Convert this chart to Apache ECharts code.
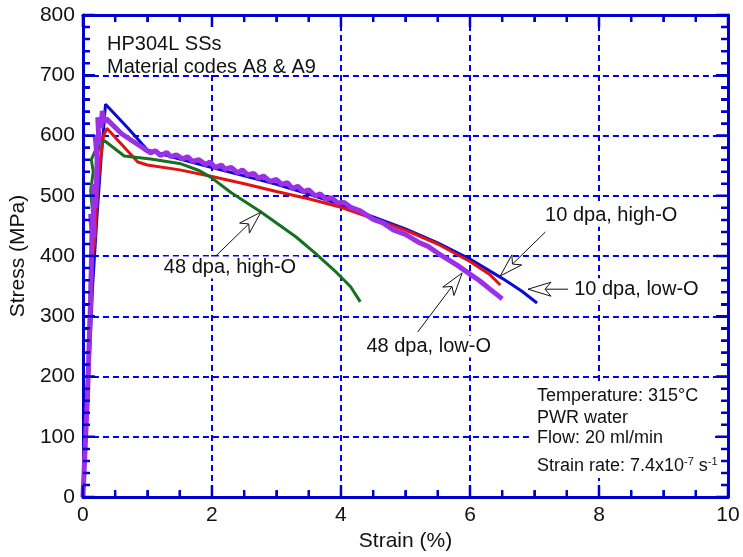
<!DOCTYPE html>
<html>
<head>
<meta charset="utf-8">
<script src="https://cdn.jsdelivr.net/npm/echarts@6/dist/echarts.min.js"></script>
<style>
html,body{margin:0;padding:0;background:#fff;}
#chart{width:743px;height:557px;}
</style>
</head>
<body>
<div id="chart"></div>
<script>
// ---- data (strain %, stress MPa) ----
const seriesNames = ['10 dpa, low-O', '10 dpa, high-O', '48 dpa, high-O', '48 dpa, low-O'];
const blueData = [[0,0],[0.08,180],[0.15,350],[0.22,470],[0.28,560],[0.35,652],[0.7,612],[1.0,576],[1.5,561],[2.0,547],[2.5,533],[3.0,519],[3.5,503],[4.0,485],[4.5,465],[5.0,445],[5.5,422],[6.0,395],[6.5,363],[6.8,342],[7.04,322]];
const redData = [[0,0],[0.07,187],[0.15,400],[0.18,420],[0.22,500],[0.27,560],[0.32,600],[0.37,612],[0.85,556],[1.0,551],[1.5,543],[2.0,532],[2.5,520],[3.0,507],[3.5,495],[4.0,481],[4.5,462],[5.0,443],[5.5,420],[6.0,391],[6.3,370],[6.47,352]];
const greenData = [[0,0],[0.07,170],[0.12,380],[0.15,470],[0.12,509],[0.16,540],[0.13,560],[0.2,577],[0.22,560],[0.25,585],[0.34,591],[0.64,566],[1.05,561],[1.52,553],[1.8,542],[1.98,531],[2.3,505],[2.76,473],[3.0,455],[3.3,432],[3.6,405],[3.9,376],[4.15,349],[4.3,324]];
const purpleData = [[0,0],[0.07,167],[0.12,330],[0.14,440],[0.12,470],[0.17,430],[0.16,520],[0.2,480],[0.22,560],[0.19,600],[0.25,585],[0.23,630],[0.28,612],[0.3,641],[0.33,622],[0.36,628],[0.6,603],[0.95,578],[1.05,571],[1.12,575],[1.2,567],[1.3,572],[1.36,565],[1.45,568],[1.55,561],[1.62,565],[1.7,557],[1.8,560],[1.9,552],[1.97,556],[2.05,547],[2.15,551],[2.2,544],[2.3,547],[2.4,538],[2.47,543],[2.55,535],[2.65,537],[2.72,529],[2.8,533],[2.9,524],[3.0,527],[3.08,519],[3.17,522],[3.25,512],[3.33,516],[3.42,507],[3.5,510],[3.6,500],[3.68,503],[3.77,494],[3.85,497],[3.95,488],[4.05,489],[4.15,481],[4.3,475],[4.5,461],[4.65,455],[4.8,444],[5.0,436],[5.2,423],[5.35,416],[5.5,405],[5.65,395],[5.8,385],[6.0,370],[6.15,359],[6.3,346],[6.5,329]];
const xTicks = {min:0, max:10, step:2, minorStep:0.5};
const yTicks = {min:0, max:800, step:100, minorStep:20};
// annotations: [tailX, tailY, tipX, tipY, textX, textY]
const annoLabels = ['48 dpa, high-O', '10 dpa, high-O', '10 dpa, low-O', '48 dpa, low-O'];
const annoData = [
  [2.03, 397, 2.76, 473, 2.28, 381],
  [7.17, 440, 6.47, 367, 8.19, 467],
  [7.52, 345, 6.90, 345, 8.58, 345],
  [5.19, 274, 5.88, 372, 5.36, 250]
];

const FONT = '"Liberation Sans", Arial, sans-serif';
const AX = '#0000cc';
const GRIDC = '#0000ee';
const MAJ = 12, MIN = 7;            // tick lengths in px
const GRID = {left:82, right:15, top:15, bottom:56, W:743, H:557};

function tickList(t) {
  const out = [];
  const n = Math.round((t.max - t.min) / t.minorStep);
  const per = Math.round(t.step / t.minorStep);
  for (let i = 0; i <= n; i++) out.push([t.min + i * t.minorStep, i % per === 0]);
  return out;
}
const xPerPx = (xTicks.max - xTicks.min) / (GRID.W - GRID.left - GRID.right);
const yPerPx = (yTicks.max - yTicks.min) / (GRID.H - GRID.top - GRID.bottom);

function tickSegments(side) {
  const out = [];
  if (side === 'bottom' || side === 'top') {
    tickList(xTicks).forEach(([v, major]) => {
      const l = (major ? MAJ : MIN) * yPerPx;
      const y0 = side === 'bottom' ? yTicks.min : yTicks.max;
      const y1 = side === 'bottom' ? y0 + l : y0 - l;
      out.push([v, y0], [v, y1], '-');
    });
  } else {
    tickList(yTicks).forEach(([v, major]) => {
      const l = (major ? MAJ : MIN) * xPerPx;
      const x0 = side === 'left' ? xTicks.min : xTicks.max;
      const x1 = side === 'left' ? x0 + l : x0 - l;
      out.push([x0, v], [x1, v], '-');
    });
  }
  return out;
}

const chart = echarts.init(document.getElementById('chart'), null, {renderer:'canvas'});

function mainAxis(base, showLabel, showSplit, minorSplit) {
  return Object.assign(base, {
    axisLine: {show:true, onZero:false, lineStyle:{color:AX, width:3}},
    axisTick: {show:true, inside:true, length:MAJ, lineStyle:{color:AX, width:2}},
    minorTick: {show:true, splitNumber:minorSplit, length:MIN, lineStyle:{color:AX, width:2}},
    splitLine: {show:showSplit, lineStyle:{color:GRIDC, width:2, type:[6,4]}},
    axisLabel: {show:showLabel, color:'#111', fontSize:21, fontFamily:FONT, margin:8}
  });
}

function renderArrow(params, api) {
  const tail = api.coord([api.value(0), api.value(1)]);
  const tip = api.coord([api.value(2), api.value(3)]);
  const txt = api.coord([api.value(4), api.value(5)]);
  const dx = tip[0]-tail[0], dy = tip[1]-tail[1];
  const L = Math.hypot(dx, dy);
  const ux = dx/L, uy = dy/L, nx = -uy, ny = ux;
  const head = 23, notch = 17, half = 7;
  const b = [tip[0]-ux*head, tip[1]-uy*head];
  const p1 = [b[0]+nx*half, b[1]+ny*half];
  const p2 = [b[0]-nx*half, b[1]-ny*half];
  const pn = [tip[0]-ux*notch, tip[1]-uy*notch];
  return {
    type:'group',
    children:[
      {type:'text', z2:5, style:{text:annoLabels[params.dataIndex], x:txt[0], y:txt[1], align:'center', verticalAlign:'middle',
        font:'20px ' + FONT, fill:'#111', backgroundColor:'#fff', padding:[1,2]}},
      {type:'line', shape:{x1:tail[0], y1:tail[1], x2:pn[0], y2:pn[1]}, style:{stroke:'#111', lineWidth:1}},
      {type:'polygon', shape:{points:[tip, p1, pn, p2]}, style:{fill:'#fff', stroke:'#111', lineWidth:1}}
    ]
  };
}

function tickLineSeries(side) {
  return {type:'line', data:tickSegments(side), symbol:'none', connectNulls:false, silent:true, clip:false, z:8,
    lineStyle:{color:AX, width:2.5}, animation:false};
}

const option = {
  animation:false,
  backgroundColor:'#fff',
  grid:{left:GRID.left, right:GRID.right, top:GRID.top, bottom:GRID.bottom, containLabel:false},
  xAxis:[
    mainAxis({type:'value', position:'bottom', min:xTicks.min, max:xTicks.max, interval:xTicks.step,
      name:'Strain (%)', nameLocation:'middle', nameGap:31,
      nameTextStyle:{color:'#111', fontSize:21, fontFamily:FONT}}, true, true, 4),
    mainAxis({type:'value', position:'top', min:xTicks.min, max:xTicks.max, interval:xTicks.step}, false, false, 4)
  ],
  yAxis:[
    mainAxis({type:'value', position:'left', min:yTicks.min, max:yTicks.max, interval:yTicks.step,
      name:'Stress (MPa)', nameLocation:'middle', nameGap:50,
      nameTextStyle:{color:'#111', fontSize:21, fontFamily:FONT}}, true, true, 5),
    mainAxis({type:'value', position:'right', min:yTicks.min, max:yTicks.max, interval:yTicks.step}, false, false, 5)
  ],
  graphic:[
    {type:'rect', z:1, shape:{x:96, y:24, width:225, height:48}, style:{fill:'#fff'}},
    {type:'rect', z:1, shape:{x:533, y:385, width:182, height:93}, style:{fill:'#fff'}},
    {type:'text', z:10, style:{text:'HP304L SSs', x:107, y:44, verticalAlign:'middle', font:'20px ' + FONT, fill:'#111'}},
    {type:'text', z:10, style:{text:'Material codes A8 & A9', x:107, y:67, verticalAlign:'middle', font:'20px ' + FONT, fill:'#111'}},
    {type:'text', z:10, style:{text:'Temperature: 315°C', x:537, y:396, verticalAlign:'middle', font:'18px ' + FONT, fill:'#111'}},
    {type:'text', z:10, style:{text:'PWR water', x:537, y:418, verticalAlign:'middle', font:'18px ' + FONT, fill:'#111'}},
    {type:'text', z:10, style:{text:'Flow: 20 ml/min', x:537, y:438, verticalAlign:'middle', font:'18px ' + FONT, fill:'#111'}},
    {type:'text', z:10, style:{text:'Strain rate: 7.4x10{sup|-7} s{sup|-1}', x:537, y:466, verticalAlign:'middle', font:'18px ' + FONT, fill:'#111',
      rich:{sup:{fontSize:11, fontFamily:FONT, fill:'#111', verticalAlign:'top', padding:[0,0,8,0]}}}}
  ],
  series:[
    {name:seriesNames[0], type:'line', data:blueData, symbol:'none', lineStyle:{color:'#0a0ad6', width:3}, z:3},
    {name:seriesNames[1], type:'line', data:redData, symbol:'none', lineStyle:{color:'#e31212', width:3}, z:3},
    {name:seriesNames[2], type:'line', data:greenData, symbol:'none', lineStyle:{color:'#17701f', width:3}, z:3},
    {name:seriesNames[3], type:'line', data:purpleData, symbol:'none', lineStyle:{color:'#9b30e6', width:5}, z:3},
    {type:'custom', renderItem:renderArrow, data:annoData, encode:{x:[0,2,4], y:[1,3,5]}, z:6, silent:true},
    tickLineSeries('bottom'), tickLineSeries('top'), tickLineSeries('left'), tickLineSeries('right')
  ]
};
chart.setOption(option);
</script>
</body>
</html>
